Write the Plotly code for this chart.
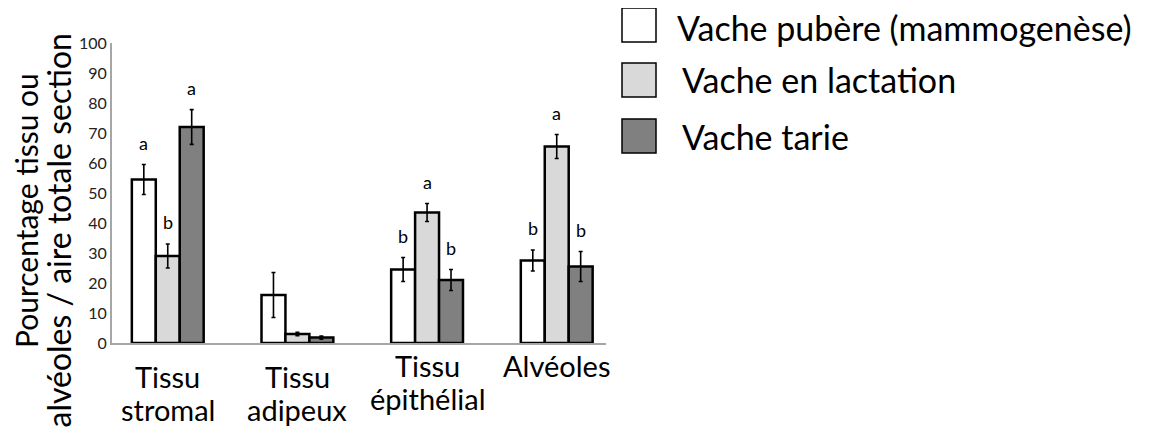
import plotly.graph_objects as go

# ---- data ----
categories = ["Tissu<br>stromal", "Tissu<br>adipeux", "Tissu<br>épithélial", "Alvéoles"]
series_names = ["Vache pubère (mammogenèse)", "Vache en lactation", "Vache tarie"]
pubere = [54.5, 16, 24.5, 27.5]
pubere_err = [5, 7.5, 4, 3.5]
lactation = [29, 3, 43.5, 65.5]
lactation_err = [4, 0.6, 3, 4]
tarie = [72, 1.8, 21, 25.5]
tarie_err = [5.8, 0.5, 3.5, 5]
pubere_letters = ["a", "", "b", "b"]
lactation_letters = ["b", "", "a", "a"]
tarie_letters = ["a", "", "b", "b"]
y_ticks = [0, 10, 20, 30, 40, 50, 60, 70, 80, 90, 100]
y_title_lines = ["Pourcentage tissu ou", "alvéoles / aire totale section"]

# ---- style ----
FONT = "Lato"
colors = ["#ffffff", "#d9d9d9", "#808080"]
OFF = 8  # page body margin
W, H = 1170 - OFF, 432 - OFF
PX0, PX1 = 112, 606   # plot area in page pixels (x)
PY0, PY1 = 43, 343    # plot area in page pixels (y)
L, T = PX0 - OFF, PY0 - OFF
PW, PH = PX1 - PX0, PY1 - PY0
R, B = W - L - PW, H - T - PH
BARGAP = 0.446


def px_x(px):
    return (px - PX0) / PW


def px_y(py):
    return (PY1 - py) / PH


values = [pubere, lactation, tarie]
errors = [pubere_err, lactation_err, tarie_err]
letters = [pubere_letters, lactation_letters, tarie_letters]

fig = go.Figure()
for name, vals, errs, col in zip(series_names, values, errors, colors):
    fig.add_trace(go.Bar(
        x=categories, y=vals, name=name,
        marker=dict(color=col, line=dict(color="#000000", width=2.5)),
        error_y=dict(type="data", array=errs, color="#000000", thickness=1.6, width=2),
        showlegend=False,
    ))

annotations = []
bw = (1 - BARGAP) / 3
for j, (vals, errs, labs) in enumerate(zip(values, errors, letters)):
    for i, (v, e, lab) in enumerate(zip(vals, errs, labs)):
        if lab:
            annotations.append(dict(
                x=i + (j - 1) * bw, y=v + e, xref="x", yref="y", text=lab,
                showarrow=False, yanchor="bottom", yshift=9,
                font=dict(family=FONT, size=18, color="#000000")))

# category labels, one annotation per line (page-pixel centre of first line)
label_first_line_y = [376, 376, 365, 365]
LINE_STEP = 33
for i, cat in enumerate(categories):
    for k, line in enumerate(cat.split("<br>")):
        annotations.append(dict(
            x=i, y=px_y(label_first_line_y[i] + k * LINE_STEP), xref="x", yref="paper",
            text=line, showarrow=False, xanchor="center", yanchor="middle",
            font=dict(family=FONT, size=29, color="#000000")))

# y axis title (two lines)
title_pos = [(26, 211, 30), (57.5, 231, 32)]
for line, (cx, cy, fs) in zip(y_title_lines, title_pos):
    annotations.append(dict(x=px_x(cx), y=px_y(cy), xref="paper", yref="paper",
                            text=line, textangle=-90, showarrow=False,
                            xanchor="center", yanchor="middle",
                            font=dict(family=FONT, size=fs, color="#000000")))

# custom legend
shapes = []
box_tops = [8, 63, 119]
text_x = [676, 681, 681]
text_y = [27, 80, 136]
for k, (name, col) in enumerate(zip(series_names, colors)):
    y0 = box_tops[k]
    shapes.append(dict(type="rect", xref="paper", yref="paper",
                       x0=px_x(622), x1=px_x(656), y0=px_y(y0 + 34), y1=px_y(y0),
                       fillcolor=col, line=dict(color="#000000", width=1.5)))
    annotations.append(dict(x=px_x(text_x[k]), y=px_y(text_y[k]), xref="paper", yref="paper",
                            text=name, showarrow=False, xanchor="left", yanchor="middle",
                            borderpad=0,
                            font=dict(family=FONT, size=34, color="#000000")))

fig.update_layout(
    width=W, height=H, autosize=False,
    margin=dict(l=L, r=R, t=T, b=B, pad=0),
    plot_bgcolor="#ffffff", paper_bgcolor="#ffffff",
    barmode="group", bargap=BARGAP, bargroupgap=0,
    annotations=annotations, shapes=shapes,
    xaxis=dict(type="category", range=[-0.43, 3.38], showticklabels=False,
               showline=True, linecolor="#a6a6a6", linewidth=2, showgrid=False,
               zeroline=False, ticks=""),
    yaxis=dict(range=[0, 100], tickvals=y_ticks, showline=True, linecolor="#a6a6a6",
               linewidth=2, showgrid=False, zeroline=False, ticks="",
               tickfont=dict(family=FONT, size=16, color="#222222")),
)

fig.write_html("out.html")
